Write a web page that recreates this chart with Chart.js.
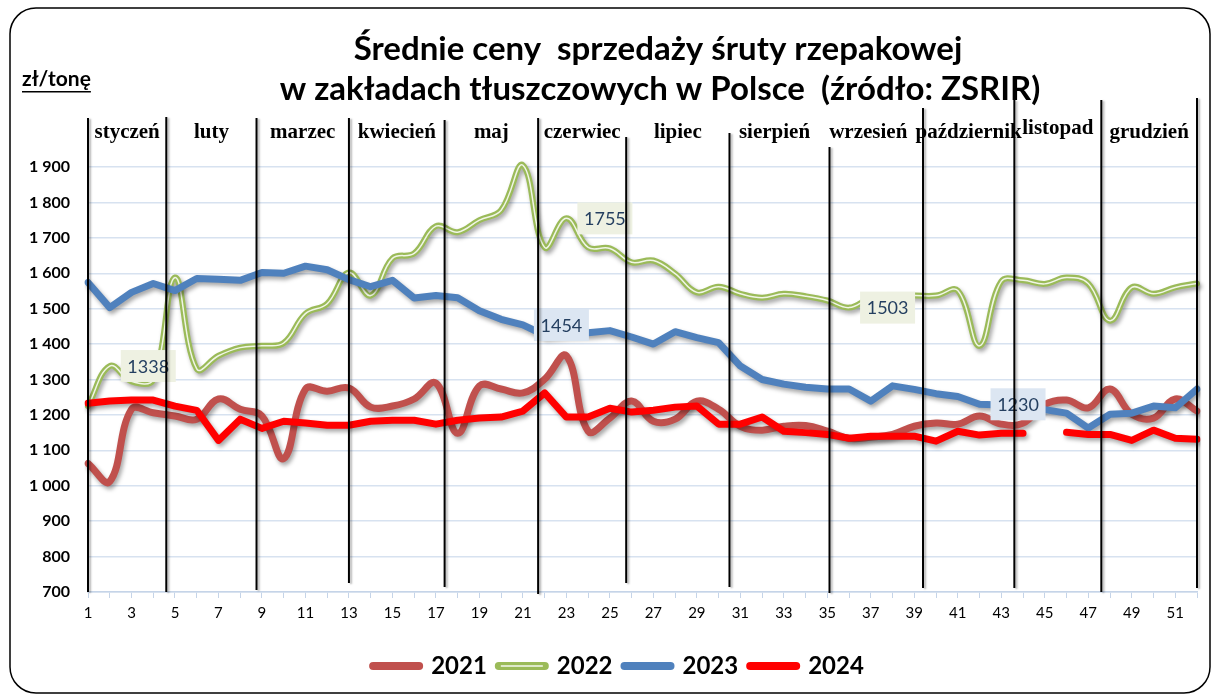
<!DOCTYPE html>
<html lang="pl">
<head>
<meta charset="utf-8">
<title>Średnie ceny sprzedaży śruty rzepakowej</title>
<script src="https://cdn.jsdelivr.net/npm/chart.js@4/dist/chart.umd.min.js"></script>
<style>
    html, body { margin: 0; padding: 0; background: #fff; }
    #wrap { width: 1215px; height: 698px; }
</style>
</head>
<body>
<div id="wrap"><canvas id="wykres" width="1215" height="698"></canvas></div>
<script>
// DANE
const tygodnie = [1, 2, 3, 4, 5, 6, 7, 8, 9, 10, 11, 12, 13, 14, 15, 16, 17, 18, 19, 20,
    21, 22, 23, 24, 25, 26, 27, 28, 29, 30, 31, 32, 33, 34, 35, 36, 37, 38, 39, 40,
    41, 42, 43, 44, 45, 46, 47, 48, 49, 50, 51, 52];

const lata = ["2021", "2022", "2023", "2024"];

const ceny2021 = [1063, 1012, 1216, 1206, 1197, 1188, 1245, 1216, 1197, 1077,
    1273, 1267, 1276, 1222, 1225, 1245, 1290, 1148, 1282, 1273,
    1262, 1301, 1367, 1154, 1191, 1239, 1182, 1188, 1239, 1216,
    1168, 1157, 1168, 1170, 1154, 1134, 1137, 1145, 1168, 1177,
    1174, 1197, 1174, 1177, 1230, 1242, 1220, 1273, 1202, 1191,
    1245, 1211];

const ceny2022 = [1225, 1338, 1295, 1300, 1588, 1330, 1367, 1390, 1395, 1403,
    1486, 1514, 1602, 1537, 1642, 1656, 1733, 1716, 1750, 1778,
    1905, 1673, 1755, 1673, 1670, 1631, 1636, 1599, 1546, 1562,
    1542, 1531, 1542, 1535, 1523, 1503, 1530, 1535, 1537, 1537,
    1551, 1395, 1577, 1580, 1570, 1588, 1571, 1466, 1560, 1542,
    1560, 1571];

const ceny2023 = [1574, 1503, 1546, 1571, 1551, 1585, 1583, 1580, 1602, 1600,
    1620, 1610, 1582, 1562, 1580, 1530, 1537, 1531, 1494, 1470,
    1454, 1425, 1430, 1432, 1438, 1420, 1400, 1435, 1418, 1404,
    1338, 1300, 1287, 1278, 1273, 1273, 1239, 1282, 1272, 1260,
    1252, 1230, 1228, 1222, 1215, 1205, 1163, 1202, 1205, 1225,
    1220, 1273];

const ceny2024 = [1233, 1239, 1242, 1242, 1225, 1213, 1128, 1188, 1162, 1182,
    1177, 1171, 1171, 1182, 1185, 1185, 1174, 1185, 1191, 1194,
    1211, 1262, 1194, 1194, 1219, 1208, 1213, 1222, 1225, 1174,
    1174, 1194, 1154, 1150, 1145, 1134, 1140, 1140, 1140, 1126,
    1154, 1143, 1148, 1148, null, 1151, 1145, 1145, 1128, 1157,
    1134, 1131];

const osY = [700, 800, 900, 1000, 1100, 1200, 1300, 1400, 1500, 1600, 1700, 1800, 1900];

const miesiace = ["styczeń", "luty", "marzec", "kwiecień", "maj", "czerwiec",
    "lipiec", "sierpień", "wrzesień", "październik", "listopad", "grudzień"];

// granice miesiecy (w tygodniach) - kreski na wykresie
const granice = [1, 4.6, 8.75, 13, 17.4, 21.7, 25.75, 30.5, 35.1, 39.4, 43.6, 47.6, 52];
const graniceGora = [118, 117, 118, 118, 120, 118, 137, 133, 147, 108, 100, 100, 98];
const graniceDol = [592, 592, 590, 583, 587, 594, 583, 587, 593, 588, 588, 592, 588];

// etykiety danych: seria, tydzien
const etykiety = [
    { seria: 1, tydzien: 2 },
    { seria: 1, tydzien: 23 },
    { seria: 2, tydzien: 21 },
    { seria: 1, tydzien: 36 },
    { seria: 2, tydzien: 42 }
];

const kolory = ["#c0504d", "#9bbb59", "#4f81bd", "#ff0000"];

function tysiace(v) {
    return String(v).replace(/\B(?=(\d{3})+(?!\d))/g, " ");
}

// RAMKA + TLO
const ramka = {
    id: "ramka",
    beforeDraw(chart) {
        const ctx = chart.ctx;
        ctx.save();
        ctx.fillStyle = "#fff";
        ctx.fillRect(0, 0, chart.width, chart.height);
        ctx.beginPath();
        ctx.roundRect(10, 8, 1200, 685, 26);
        ctx.lineWidth = 1.5;
        ctx.strokeStyle = "#000";
        ctx.stroke();
        ctx.restore();
    },
    // legenda troche w prawo, jak w oryginale
    afterLayout(chart) {
        chart.legend.left += 20;
        chart.legend.right += 20;
    }
};

// CIEN POD LINIAMI
const cien = {
    id: "cien",
    beforeDatasetDraw(chart, args) {
        const ds = chart.data.datasets[args.index];
        chart.ctx.save();
        if (ds.cien) {
            chart.ctx.shadowColor = "rgba(0,0,0,0.35)";
            chart.ctx.shadowBlur = 4;
            chart.ctx.shadowOffsetX = 2;
            chart.ctx.shadowOffsetY = 3;
        }
    },
    afterDatasetDraw(chart) {
        chart.ctx.restore();
    }
};

// ETYKIETY + KRESKI MIESIECY + TYTUL
const opisy = {
    id: "opisy",
    afterDatasetsDraw(chart) {
        const ctx = chart.ctx;
        const x = chart.scales.x;

        // etykiety danych
        ctx.save();
        etykiety.forEach(e => {
            const pt = chart.getDatasetMeta(e.seria).data[e.tydzien - 1];
            const val = chart.data.datasets[e.seria].data[e.tydzien - 1];
            const bx = pt.x + 11, by = pt.y - 16;
            ctx.fillStyle = e.seria === 1 ? "#eef1e2" : "#dce6f2";
            ctx.fillRect(bx, by, 55, 32);
            ctx.fillStyle = "#243f60";
            ctx.font = "18px Lato";
            ctx.textAlign = "center";
            ctx.textBaseline = "middle";
            ctx.fillText(String(val), bx + 27.5, by + 17);
        });
        ctx.restore();

        // kreski miesiecy
        ctx.save();
        ctx.strokeStyle = "#000";
        ctx.lineWidth = 2;
        ctx.shadowColor = "rgba(0,0,0,0.3)";
        ctx.shadowBlur = 2;
        ctx.shadowOffsetX = 2;
        ctx.shadowOffsetY = 1;
        granice.forEach((g, i) => {
            const px = x.getPixelForValue(g - 1);
            ctx.beginPath();
            ctx.moveTo(px, graniceGora[i]);
            ctx.lineTo(px, graniceDol[i]);
            ctx.stroke();
        });
        ctx.restore();

        // nazwy miesiecy
        ctx.save();
        ctx.fillStyle = "#000";
        ctx.font = "bold 21px 'Liberation Serif'";
        ctx.textAlign = "center";
        ctx.textBaseline = "alphabetic";
        miesiace.forEach((m, i) => {
            const a = x.getPixelForValue(granice[i] - 1);
            const b = x.getPixelForValue(granice[i + 1] - 1);
            let cx = (a + b) / 2;
            if (m === "wrzesień") cx -= 8;
            if (m === "sierpień") cx -= 5;
            ctx.fillText(m, cx, m === "listopad" ? 134 : 138);
        });
        ctx.restore();
    },
    afterDraw(chart) {
        const ctx = chart.ctx;
        ctx.save();
        ctx.fillStyle = "#000";
        ctx.textAlign = "center";
        ctx.textBaseline = "alphabetic";
        ctx.font = "bold 33px Lato";
        ctx.fillText("Średnie ceny  sprzedaży śruty rzepakowej", 658, 60);
        ctx.fillText("w zakładach tłuszczowych w Polsce  (źródło: ZSRIR)", 660, 100);

        ctx.textAlign = "left";
        ctx.font = "bold 21px Lato";
        ctx.fillText("zł/tonę", 22, 86);
        const w = ctx.measureText("zł/tonę").width;
        ctx.fillRect(22, 91, w, 1.5);

        // bialy srodek linii 2022 w legendzie
        const box = chart.legend.legendHitBoxes[1];
        if (box) {
            ctx.strokeStyle = "rgba(255,255,255,0.9)";
            ctx.lineWidth = 1.5;
            ctx.beginPath();
            ctx.moveTo(box.left + 2, box.top + 12);
            ctx.lineTo(box.left + 44, box.top + 12);
            ctx.stroke();
        }
        ctx.restore();
    }
};

Chart.defaults.font.family = "Lato";
Chart.defaults.color = "#000";

new Chart(document.getElementById("wykres"), {
    type: "line",
    data: {
        labels: tygodnie,
        datasets: [
            { label: lata[0], data: ceny2021, borderColor: kolory[0], backgroundColor: kolory[0],
              borderWidth: 7, tension: 0.4, order: 4, cien: true },
            { label: lata[1], data: ceny2022, borderColor: kolory[1], backgroundColor: kolory[1],
              borderWidth: 6, tension: 0.4, order: 3, cien: true, clip: false },
            { label: lata[2], data: ceny2023, borderColor: kolory[2], backgroundColor: kolory[2],
              borderWidth: 7, tension: 0, order: 1, cien: true },
            { label: lata[3], data: ceny2024, borderColor: kolory[3], backgroundColor: kolory[3],
              borderWidth: 7, tension: 0, order: 0, cien: true },
            { label: "2022 srodek", data: ceny2022, borderColor: "rgba(255,255,255,0.85)",
              borderWidth: 1.5, tension: 0.4, order: 2.5, clip: false }
        ]
    },
    options: {
        responsive: false,
        animation: false,
        layout: { padding: { top: 167, right: 18, bottom: 10, left: 0 } },
        elements: {
            point: { radius: 0, hoverRadius: 0 },
            line: { borderCapStyle: "round", borderJoinStyle: "round" }
        },
        plugins: {
            title: { display: false },
            tooltip: { enabled: false },
            legend: {
                position: "bottom",
                labels: {
                    usePointStyle: true,
                    pointStyle: "line",
                    pointStyleWidth: 46,
                    padding: 12,
                    color: "#000",
                    font: { size: 24, weight: "bold" },
                    generateLabels(chart) {
                        return Chart.defaults.plugins.legend.labels.generateLabels(chart)
                            .filter(it => it.datasetIndex < 4)
                            .sort((a, b) => a.datasetIndex - b.datasetIndex)
                            .map(it => Object.assign(it, { lineWidth: 8, lineCap: "round" }));
                    }
                }
            }
        },
        scales: {
            x: {
                type: "category",
                afterFit(scale) { scale.height = 50; },
                grid: { drawOnChartArea: false, drawTicks: true, tickLength: 6, color: "#c5d4e8" },
                border: { color: "#c5d4e8", width: 1.5 },
                ticks: {
                    autoSkip: false,
                    maxRotation: 0,
                    padding: 6,
                    color: "#000",
                    font: { size: 15 },
                    callback(v, i) { return i % 2 === 0 ? String(tygodnie[i]) : ""; }
                }
            },
            y: {
                min: 700,
                max: 1900,
                afterFit(scale) { scale.width = 88; },
                afterBuildTicks(scale) { scale.ticks = osY.map(v => ({ value: v })); },
                grid: { color: "#d7e2f0", lineWidth: 1.5, drawTicks: false },
                border: { display: false },
                ticks: {
                    padding: 18,
                    color: "#000",
                    font: { size: 16, weight: "bold" },
                    callback(v) { return tysiace(v); }
                }
            }
        }
    },
    plugins: [ramka, cien, opisy]
});
</script>
</body>
</html>
